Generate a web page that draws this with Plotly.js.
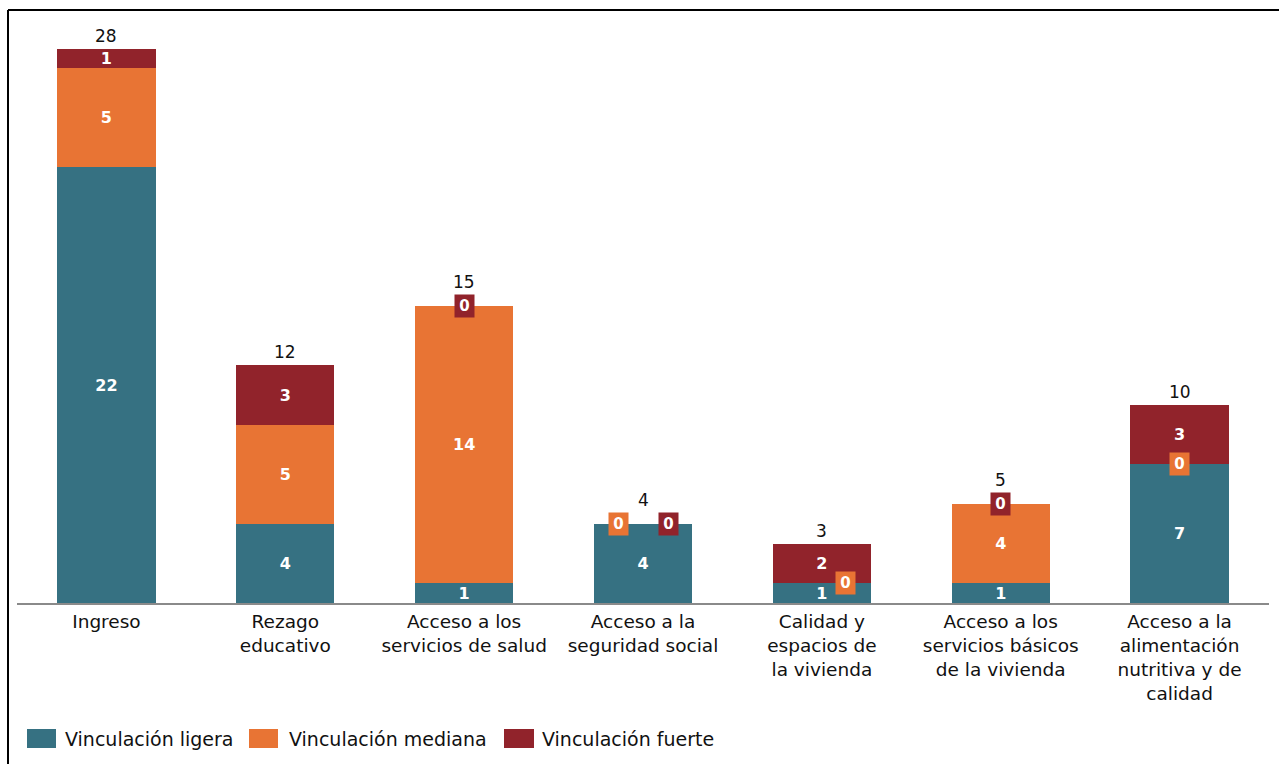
<!DOCTYPE html>
<html>
<head>
<meta charset="utf-8">
<script src="https://cdn.plot.ly/plotly-3.0.1.min.js"></script>
<style>
html,body{margin:0;padding:0;background:#fff;}
#chart{width:1279px;height:764px;}
</style>
</head>
<body>
<div id="chart"></div>
<script>
const categories = ['Ingreso', 'Rezago<br>educativo', 'Acceso a los<br>servicios de salud', 'Acceso a la<br>seguridad social', 'Calidad y<br>espacios de<br>la vivienda', 'Acceso a los<br>servicios básicos<br>de la vivienda', 'Acceso a la<br>alimentación<br>nutritiva y de<br>calidad'];
const seriesNames = ['Vinculación ligera', 'Vinculación mediana', 'Vinculación fuerte'];
const ligera = [22, 4, 1, 4, 1, 1, 7];
const mediana = [5, 5, 14, 0, 0, 4, 0];
const fuerte = [1, 3, 0, 0, 2, 0, 3];

const colors = ['#367182', '#E87434', '#91232B'];
const zeroShift = [
  [0, 0, 0, 0, 0, 0, 0],
  [0, 0, 0, -25, 24, 0, 0],
  [0, 0, 0, 25, 0, 0, 0]
];
// legend geometry in pixels (square left, square right, text left)
const legendPos = [[27, 56, 63], [249, 278, 287], [504, 534, 540]];

const series = [ligera, mediana, fuerte];
const FONT = '"DejaVu Sans", "Open Sans", sans-serif';

const traces = series.map((vals, i) => ({
  type: 'bar',
  name: seriesNames[i],
  x: categories,
  y: vals,
  marker: {color: colors[i], line: {width: 0}},
  text: vals.map(v => v === 0 ? '' : String(v)),
  textposition: 'inside',
  insidetextanchor: 'middle',
  textangle: 0,
  constraintext: 'none',
  textfont: {family: FONT, size: 16, color: '#ffffff', weight: 'bold'},
  hoverinfo: 'x+y+name',
  showlegend: false
}));

const annotations = [];
// totals
categories.forEach((c, k) => {
  const total = ligera[k] + mediana[k] + fuerte[k];
  const topZero = fuerte[k] === 0;
  annotations.push({
    x: c, y: total, xref: 'x', yref: 'y',
    text: String(total), showarrow: false,
    yanchor: 'bottom', yshift: topZero ? 12 : 1,
    font: {family: FONT, size: 17, color: '#111'}
  });
});
// zero badges
categories.forEach((c, k) => {
  let base = 0;
  series.forEach((vals, i) => {
    if (vals[k] === 0) {
      annotations.push({
        x: c, y: base, xref: 'x', yref: 'y',
        text: '<b>0</b>', showarrow: false,
        xanchor: 'center', yanchor: 'middle',
        xshift: zeroShift[i][k],
        width: 15, height: 18,
        bgcolor: colors[i], borderpad: 2,
        font: {family: FONT, size: 15, color: '#ffffff'}
      });
    }
    base += vals[k];
  });
});

// manual legend (px -> paper)
const L = 17, W = 1252, B = 603, H = 573;
const px = v => (v - L) / W;
const py = v => (B - v) / H;
const shapes = [
  {type: 'line', xref: 'paper', yref: 'paper', x0: px(8), x1: px(8), y0: py(10), y1: py(770),
   line: {color: '#000', width: 2}},
  {type: 'line', xref: 'paper', yref: 'paper', x0: px(8), x1: px(1285), y0: py(10), y1: py(10),
   line: {color: '#000', width: 2}}
];
seriesNames.forEach((n, i) => {
  const [a, b, t] = legendPos[i];
  shapes.push({type: 'rect', xref: 'paper', yref: 'paper', x0: px(a), x1: px(b), y0: py(748), y1: py(729),
    fillcolor: colors[i], line: {width: 0}});
  annotations.push({xref: 'paper', yref: 'paper', x: px(t), y: py(739), xanchor: 'left', yanchor: 'middle',
    text: n, showarrow: false, font: {family: FONT, size: 19, color: '#111'}});
});

const layout = {
  width: 1279, height: 764,
  margin: {l: L, r: 10, t: 30, b: 161},
  paper_bgcolor: '#ffffff', plot_bgcolor: 'rgba(0,0,0,0)',
  barmode: 'stack',
  bargap: 0.45,
  showlegend: false,
  xaxis: {
    type: 'category',
    showline: true, linecolor: '#8a8a8a', linewidth: 2,
    ticks: '', showgrid: false, zeroline: false,
    tickfont: {family: FONT, size: 18.5, color: '#111'},
    ticklabelstandoff: 1,
    automargin: false
  },
  yaxis: {
    range: [0, 28.94], visible: false, showgrid: false, zeroline: false
  },
  annotations: annotations,
  shapes: shapes
};

Plotly.newPlot('chart', traces, layout, {displayModeBar: false, staticPlot: true});
</script>
</body>
</html>
